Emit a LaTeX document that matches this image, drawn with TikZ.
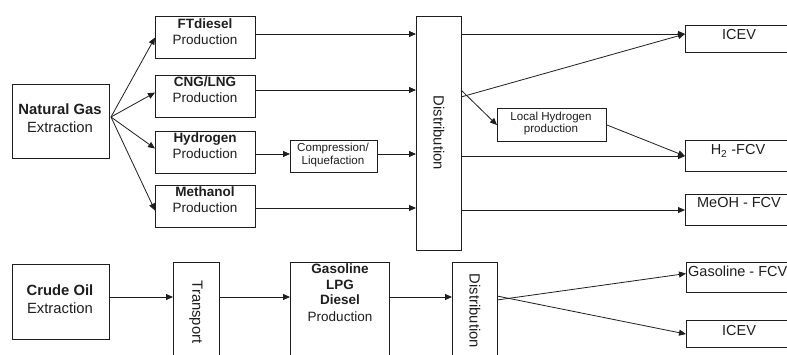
\documentclass[tikz,border=0pt]{standalone}
\usepackage{fontspec}
\setmainfont{Liberation Sans}
\usetikzlibrary{arrows.meta}
\definecolor{ink}{HTML}{1E1E1E}
\tikzset{
  box/.style={draw=ink, line width=1.1pt, inner sep=0pt, anchor=north west, fill=white},
  arr/.style={draw=ink, line width=0.8pt, -{Triangle[length=7pt,width=6pt]}},
  big/.style={text=ink, inner sep=0pt, font=\fontsize{14.8}{17}\selectfont},
  mid/.style={text=ink, inner sep=0pt, font=\fontsize{13.5}{16}\selectfont},
  sml/.style={text=ink, inner sep=0pt, font=\fontsize{11.6}{13}\selectfont},
  veh/.style={text=ink, inner sep=0pt, font=\fontsize{14.5}{17}\selectfont},
}
\begin{document}
\begin{tikzpicture}[x=1pt,y=-1pt]
\useasboundingbox (0,0) rectangle (787,355);
\clip (0,0) rectangle (787,355);
\fill[white] (0,0) rectangle (787,355);
% boxes
\node[box, minimum width=97, minimum height=74] (ng) at (12,84) {};
\node[box, minimum width=100, minimum height=42] (ft) at (155,16) {};
\node[box, minimum width=100, minimum height=42] (cng) at (155,75) {};
\node[box, minimum width=100, minimum height=42] (hyd) at (155,131) {};
\node[box, minimum width=100, minimum height=42] (meth) at (155,185) {};
\node[box, minimum width=87, minimum height=32] (comp) at (290,140) {};
\node[box, minimum width=45, minimum height=234] (dist) at (416,16) {};
\node[box, minimum width=109, minimum height=33] (loc) at (497,108) {};
\node[box, minimum width=115, minimum height=27] (icev) at (685,25) {};
\node[box, minimum width=115, minimum height=31] (h2) at (685,140) {};
\node[box, minimum width=115, minimum height=31] (meoh) at (685,194) {};
\node[box, minimum width=97, minimum height=75] (crude) at (12,264) {};
\node[box, minimum width=46, minimum height=110] (trans) at (173,262) {};
\node[box, minimum width=99, minimum height=110] (gas) at (290,262) {};
\node[box, minimum width=45, minimum height=110] (dist2) at (452,262) {};
\node[box, minimum width=115, minimum height=30] (gfcv) at (686,262) {};
\node[box, minimum width=115, minimum height=27] (icev2) at (686,320) {};
% texts
\node[big, anchor=base] (t1) at (60,115) {\bfseries Natural Gas};
\node[big, anchor=base] (t2) at (60,133) {Extraction};
\node[mid, anchor=base] (t3) at (205,29) {\bfseries FTdiesel};
\node[mid, anchor=base] (t4) at (205,45) {Production};
\node[mid, anchor=base] (t5) at (205,87) {\bfseries CNG/LNG};
\node[mid, anchor=base] (t6) at (205,103) {Production};
\node[mid, anchor=base] (t7) at (205,143) {\bfseries Hydrogen};
\node[mid, anchor=base] (t8) at (205,159) {Production};
\node[mid, anchor=base] (t9) at (205,197) {\bfseries Methanol};
\node[mid, anchor=base] (t10) at (205,213) {Production};
\node[sml, anchor=base] (t11) at (333,152) {Compression/};
\node[sml, anchor=base] (t12) at (333,165) {Liquefaction};
\node[big, rotate=-90] (t13) at (439,133) {Distribution};
\node[sml, anchor=base] (t14) at (551,121) {Local Hydrogen};
\node[sml, anchor=base] (t15) at (551,133) {production};
\node[veh, anchor=base] (t16) at (739,40) {ICEV};
\node[veh, anchor=base] (t17) at (738,155) {H\textsubscript{2} -FCV};
\node[veh, anchor=base] (t18) at (739,208) {MeOH - FCV};
\node[big, anchor=base] (t19) at (60,296) {\bfseries Crude Oil};
\node[big, anchor=base] (t20) at (60,313) {Extraction};
\node[big, rotate=-90] (t21) at (196,312) {Transport};
\node[mid, anchor=base] (t22) at (340,274) {\bfseries Gasoline};
\node[mid, anchor=base] (t23) at (340,290) {\bfseries LPG};
\node[mid, anchor=base] (t24) at (340,305) {\bfseries Diesel};
\node[mid, anchor=base] (t25) at (340,321) {Production};
\node[big, rotate=-90] (t26) at (475,311) {Distribution};
\node[veh, anchor=base west] (t27) at (688,277) {Gasoline - FCV};
\node[veh, anchor=base] (t28) at (739,335) {ICEV};
% helper coordinates
\coordinate (fan) at (111,117);
\coordinate (r1) at (0,34);
\coordinate (r2) at (0,90);
\coordinate (r3) at (0,154);
\coordinate (r4) at (0,208);
\coordinate (r5) at (0,297);
\coordinate (da) at (461,97);
\coordinate (db) at (461,90);
\coordinate (dc) at (497,300);
\coordinate (dd) at (497,296);
% connectors
\draw[arr] (fan) -- (ft.west);
\draw[arr] (fan) -- ([yshift=4pt]cng.west);
\draw[arr] (fan) -- ([yshift=4pt]hyd.west);
\draw[arr] (fan) -- ([yshift=-4pt]meth.west);
\draw[arr] (ft.east |- r1) -- (dist.west |- r1);
\draw[arr] (cng.east |- r2) -- (dist.west |- r2);
\draw[arr] (hyd.east |- r3) -- (comp.west |- r3);
\draw[arr] (comp.east |- r3) -- (dist.west |- r3);
\draw[arr] (meth.east |- r4) -- (dist.west |- r4);
\draw[arr] (dist.east |- r1) -- (icev.west |- r1);
\draw[arr] (da) -- (icev.west |- r1);
\draw[arr] (db) -- (loc.west);
\draw[arr] (loc.east) -- (h2.west);
\draw[arr] (dist.east |- h2.west) -- (h2.west);
\draw[arr] (dist.east |- meoh.west) -- (meoh.west);
\draw[arr] (crude.east |- r5) -- (trans.west |- r5);
\draw[arr] (trans.east |- r5) -- (gas.west |- r5);
\draw[arr] (gas.east |- r5) -- (dist2.west |- r5);
\draw[arr] (dc) -- ([yshift=4pt]gfcv.west);
\draw[arr] (dd) -- (icev2.west);
\end{tikzpicture}
\end{document}
